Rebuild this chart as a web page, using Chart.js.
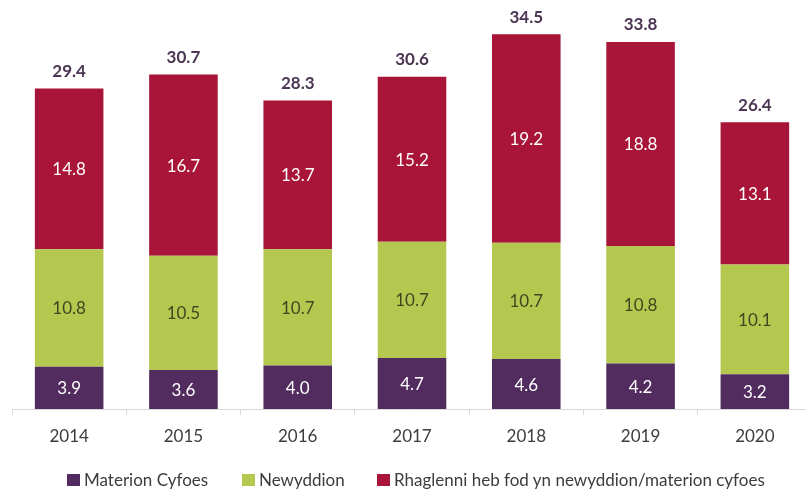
<!DOCTYPE html>
<html>
<head>
<meta charset="utf-8">
<script src="https://cdn.jsdelivr.net/npm/chart.js@4"></script>
<style>
  html, body { margin: 0; padding: 0; background: #fff; overflow: hidden; }
  #wrap { position: relative; width: 812px; height: 490px; }
  #legend { position: absolute; left: 0; top: 0; width: 812px; height: 490px; pointer-events: none;
            font-family: Lato, "Liberation Sans", sans-serif; font-size: 17px; line-height: 20px; color: #3c3c3c; }
  .leg-item { position: absolute; top: 470px; display: flex; align-items: center; white-space: nowrap; }
  .leg-box { width: 13px; height: 12px; margin-right: 4px; }
</style>
</head>
<body>
<div id="wrap">
  <canvas id="chart" width="812" height="490"></canvas>
  <div id="legend"></div>
</div>
<script>
(function(){
    "use strict";

    const years = ['2014', '2015', '2016', '2017', '2018', '2019', '2020'];
    const materionCyfoes = [3.9, 3.6, 4.0, 4.7, 4.6, 4.2, 3.2];
    const newyddion = [10.8, 10.5, 10.7, 10.7, 10.7, 10.8, 10.1];
    const rhaglenni = [14.8, 16.7, 13.7, 15.2, 19.2, 18.8, 13.1];
    const totals = [29.4, 30.7, 28.3, 30.6, 34.5, 33.8, 26.4];

    const FONT = 'Lato, "Liberation Sans", sans-serif';

    // labels inside each segment + totals above the stack
    const labelPlugin = {
        id: 'segLabels',
        afterDatasetsDraw(chart) {
            const ctx = chart.ctx;
            ctx.save();
            ctx.textAlign = 'center';
            ctx.textBaseline = 'middle';
            ctx.font = '17px ' + FONT;
            chart.data.datasets.forEach((ds, i) => {
                const meta = chart.getDatasetMeta(i);
                meta.data.forEach((bar, j) => {
                    const mid = (bar.y + bar.base) / 2;
                    ctx.fillStyle = ds.labelColor;
                    ctx.fillText(ds.data[j].toFixed(1), bar.x, mid + 1);
                });
            });
            const top = chart.getDatasetMeta(chart.data.datasets.length - 1);
            ctx.font = 'bold 17px ' + FONT;
            ctx.fillStyle = '#4b3553';
            top.data.forEach((bar, j) => {
                ctx.fillText(totals[j].toFixed(1), bar.x, bar.y - 17);
            });
            ctx.restore();
        }
    };

    const chart = new Chart(document.getElementById('chart'), {
        type: 'bar',
        data: {
            labels: years,
            datasets: [
                { label: 'Materion Cyfoes', data: materionCyfoes, backgroundColor: '#522c5f', labelColor: '#ffffff' },
                { label: 'Newyddion', data: newyddion, backgroundColor: '#b4c84f', labelColor: '#3e4720' },
                { label: 'Rhaglenni heb fod yn newyddion/materion cyfoes', data: rhaglenni, backgroundColor: '#a81538', labelColor: '#ffffff' }
            ]
        },
        options: {
            responsive: false,
            animation: false,
            devicePixelRatio: 1,
            layout: { padding: { left: 12, right: 0, top: 18, bottom: 0 } },
            datasets: { bar: { barPercentage: 0.6, categoryPercentage: 1.0, borderWidth: 0 } },
            scales: {
                x: {
                    stacked: true,
                    offset: true,
                    afterFit(scale) { scale.height = 81; },
                    border: { display: true, color: '#d9d9d9', width: 1 },
                    grid: { display: true, drawOnChartArea: false, offset: true, color: '#d9d9d9', tickLength: 6 },
                    ticks: { color: '#3c3c3c', font: { family: FONT, size: 17 }, padding: 11 }
                },
                y: {
                    stacked: true,
                    display: false,
                    min: 0,
                    max: 36
                }
            },
            plugins: {
                legend: { display: false },
                tooltip: { enabled: false }
            }
        },
        plugins: [labelPlugin]
    });

    // legend built from the datasets
    const legendX = [67, 242, 377];
    const legendEl = document.getElementById('legend');
    chart.data.datasets.forEach((ds, i) => {
        const item = document.createElement('div');
        item.className = 'leg-item';
        item.style.left = legendX[i] + 'px';
        item.innerHTML = `<span class="leg-box" style="background:${ds.backgroundColor}"></span><span>${ds.label}</span>`;
        legendEl.appendChild(item);
    });
})();
</script>
</body>
</html>
